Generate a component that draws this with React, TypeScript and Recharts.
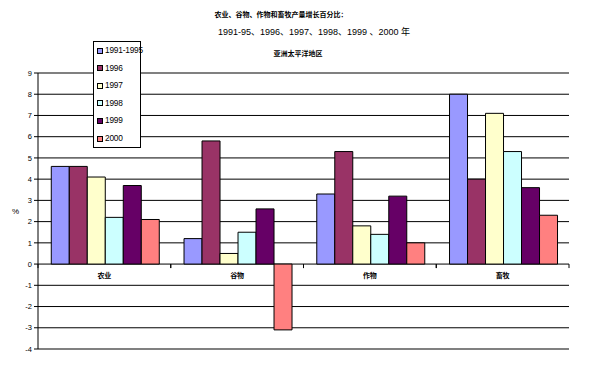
import { BarChart, Bar, XAxis, YAxis, CartesianGrid, ReferenceLine } from 'recharts';

const categories = ['农业', '谷物', '作物', '畜牧'];
const seriesNames = ['1991-1995', '1996', '1997', '1998', '1999', '2000'];
const s1991 = [4.6, 1.2, 3.3, 8.0];
const s1996 = [4.6, 5.8, 5.3, 4.0];
const s1997 = [4.1, 0.5, 1.8, 7.1];
const s1998 = [2.2, 1.5, 1.4, 5.3];
const s1999 = [3.7, 2.6, 3.2, 3.6];
const s2000 = [2.1, -3.1, 1.0, 2.3];
const yTicks = [9, 8, 7, 6, 5, 4, 3, 2, 1, 0, -1, -2, -3, -4];
const titleLines = ['农业、谷物、作物和畜牧产量增长百分比：', '1991-95、1996、1997、1998、1999 、2000 年', '亚洲太平洋地区'];

const colors = ['#9999FF', '#993366', '#FFFFCC', '#CCFFFF', '#660066', '#FF8080'];
const allSeries = [s1991, s1996, s1997, s1998, s1999, s2000];

const data = categories.map((name, i) => {
  const row: Record<string, string | number> = { name };
  seriesNames.forEach((s, j) => {
    row[s] = allSeries[j][i];
  });
  return row;
});

const W = 593;
const H = 365;
const M = { top: 73, right: 24, bottom: 0, left: 0 };
const AXIS_W = 38;
const XAXIS_H = 16;
const plotH = H - M.top - M.bottom - XAXIS_H;
const plotW = W - M.left - M.right - AXIS_W;
const band = plotW / categories.length;
const zeroY = M.top + (plotH * 9) / 13;

const font = '"Liberation Sans", Arial, "Noto Sans CJK SC", sans-serif';

function CatTick(props: any) {
  const { x, payload } = props;
  return (
    <g>
      <line x1={x - band / 2} x2={x - band / 2} y1={zeroY} y2={zeroY + 4} stroke="#000" />
      <line x1={x + band / 2} x2={x + band / 2} y1={zeroY} y2={zeroY + 4} stroke="#000" />
      <text x={x} y={zeroY + 14} textAnchor="middle" fontSize={7} fontWeight="bold" fill="#000" fontFamily={font}>
        {payload.value}
      </text>
    </g>
  );
}

export default function App() {
  return (
    <div style={{ position: 'absolute', left: 0, top: 0, width: W, height: H, background: '#fff', fontFamily: font }}>
      <BarChart width={W} height={H} data={data} margin={M} barCategoryGap="10%" barGap={0}>
        <CartesianGrid vertical={false} stroke="#000" />
        <XAxis dataKey="name" height={XAXIS_H} axisLine={{ stroke: '#808080', strokeWidth: 2 }} tickLine={false} tick={<CatTick />} interval={0} />
        <YAxis
          domain={[-4, 9]}
          ticks={yTicks}
          interval={0}
          width={AXIS_W}
          axisLine={{ stroke: '#000' }}
          tickLine={{ stroke: '#000' }}
          tickSize={4}
          tick={{ fontSize: 7.5, fill: '#000', fontFamily: font }}
          label={{ value: '%', position: 'insideLeft', offset: 12, fontSize: 8, fill: '#000' }}
        />
        <YAxis yAxisId="r" orientation="right" width={0} tick={false} tickLine={false} axisLine={{ stroke: '#808080', strokeWidth: 2 }} />
        <ReferenceLine y={9} stroke="#808080" strokeWidth={2} />
        {seriesNames.map((s, j) => (
          <Bar key={s} dataKey={s} fill={colors[j]} stroke="#000" strokeWidth={1} isAnimationActive={false} />
        ))}
      </BarChart>
      {titleLines.map((t, i) => (
        <div
          key={i}
          style={{
            position: 'absolute',
            left: [281, 314, 298][i],
            top: [10, 27, 49][i],
            transform: 'translateX(-50%)',
            whiteSpace: 'nowrap',
            fontSize: i === 1 ? 9 : 7,
            fontWeight: i === 1 ? 'normal' : 'bold',
            lineHeight: '10px',
          }}
        >
          {t}
        </div>
      ))}
      <div
        style={{
          position: 'absolute',
          left: 93,
          top: 41,
          width: 46,
          height: 105,
          border: '1px solid #000',
          background: '#fff',
          boxSizing: 'content-box',
        }}
      >
        {seriesNames.map((s, j) => (
          <div key={s} style={{ position: 'absolute', left: 3, top: 4 + j * 17.6, display: 'flex', alignItems: 'center', fontSize: 8.3, lineHeight: '9px', whiteSpace: 'nowrap', letterSpacing: -0.2 }}>
            <span style={{ display: 'inline-block', width: 4, height: 4, background: colors[j], border: '1px solid #000', marginRight: 2 }} />
            {s}
          </div>
        ))}
      </div>
    </div>
  );
}
